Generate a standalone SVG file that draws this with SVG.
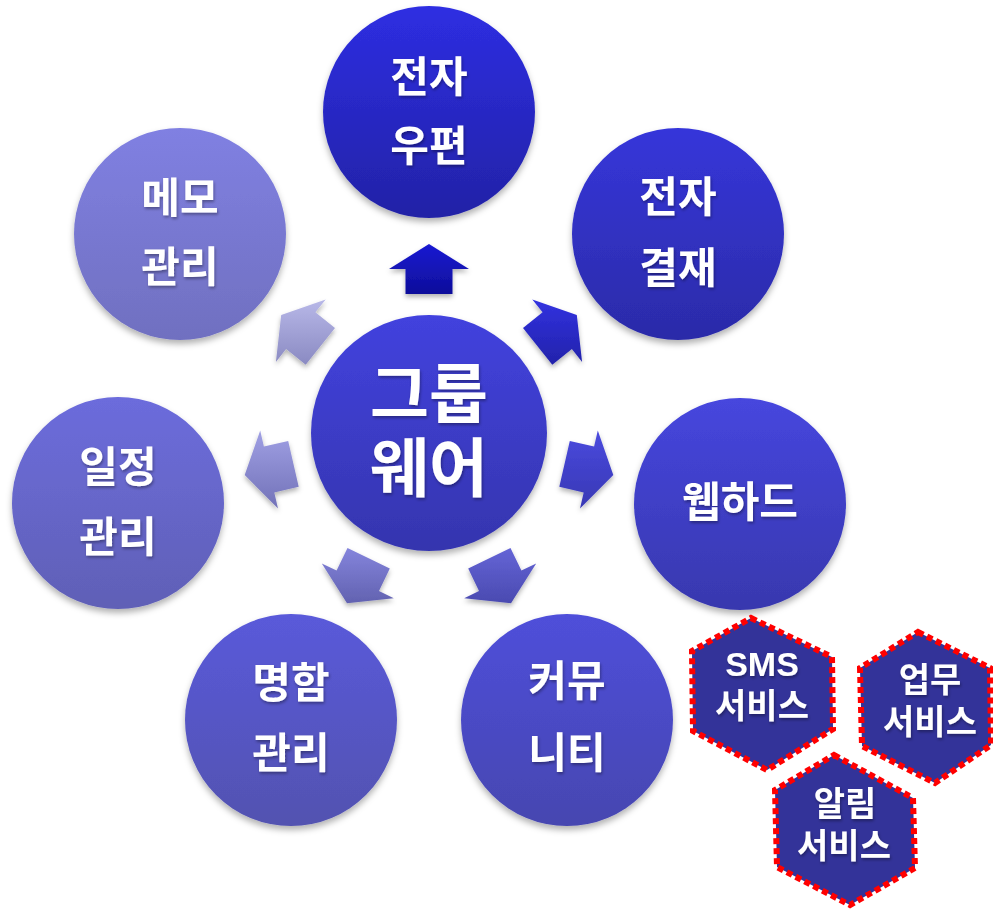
<svg xmlns="http://www.w3.org/2000/svg" width="993" height="910" viewBox="0 0 993 910">
<defs>
<style>
.lbl{font-family:"Liberation Sans","Noto Sans CJK KR",sans-serif;font-weight:bold;fill:#fff;text-anchor:middle;filter:url(#ts)}
.n{font-size:42px}
.c{font-size:64px}
.h{font-size:34px}
.hex{fill:#333399;stroke:#ff0000;stroke-width:6;stroke-dasharray:6 4}
.circ{filter:url(#ds)}
.arr{filter:url(#as)}
</style>
<filter id="ds" x="-20%" y="-20%" width="140%" height="145%"><feDropShadow dx="0" dy="4" stdDeviation="3" flood-color="#000" flood-opacity="0.3"/></filter>
<filter id="as" x="-30%" y="-30%" width="160%" height="160%"><feDropShadow dx="0" dy="3" stdDeviation="2.5" flood-color="#000" flood-opacity="0.3"/></filter>
<filter id="ts" x="-10%" y="-20%" width="120%" height="150%"><feDropShadow dx="1" dy="2" stdDeviation="1.5" flood-color="#000" flood-opacity="0.35"/></filter>
<linearGradient id="g0" x1="0" y1="0" x2="0" y2="1"><stop offset="0" stop-color="#2e2ee2"/><stop offset="1" stop-color="#2222a6"/></linearGradient>
<linearGradient id="g1" x1="0" y1="0" x2="0" y2="1"><stop offset="0" stop-color="#3636da"/><stop offset="1" stop-color="#2b2ba8"/></linearGradient>
<linearGradient id="g2" x1="0" y1="0" x2="0" y2="1"><stop offset="0" stop-color="#4646de"/><stop offset="1" stop-color="#3838ae"/></linearGradient>
<linearGradient id="g3" x1="0" y1="0" x2="0" y2="1"><stop offset="0" stop-color="#4f4fda"/><stop offset="1" stop-color="#4646b0"/></linearGradient>
<linearGradient id="g4" x1="0" y1="0" x2="0" y2="1"><stop offset="0" stop-color="#5a5ada"/><stop offset="1" stop-color="#5252b0"/></linearGradient>
<linearGradient id="g5" x1="0" y1="0" x2="0" y2="1"><stop offset="0" stop-color="#6c6cdc"/><stop offset="1" stop-color="#6060b6"/></linearGradient>
<linearGradient id="g6" x1="0" y1="0" x2="0" y2="1"><stop offset="0" stop-color="#8080e2"/><stop offset="1" stop-color="#7070c0"/></linearGradient>
<linearGradient id="gc" x1="0" y1="0" x2="0" y2="1"><stop offset="0" stop-color="#4242de"/><stop offset="1" stop-color="#3535ae"/></linearGradient>
<linearGradient id="a0" x1="0" y1="0" x2="0" y2="1"><stop offset="0" stop-color="#1a1ad2"/><stop offset="1" stop-color="#0e0e9a"/></linearGradient>
<linearGradient id="a1" x1="0" y1="0" x2="0" y2="1"><stop offset="0" stop-color="#3232e0"/><stop offset="1" stop-color="#2222aa"/></linearGradient>
<linearGradient id="a2" x1="0" y1="0" x2="0" y2="1"><stop offset="0" stop-color="#4a4ade"/><stop offset="1" stop-color="#3838b4"/></linearGradient>
<linearGradient id="a3" x1="0" y1="0" x2="0" y2="1"><stop offset="0" stop-color="#6464d6"/><stop offset="1" stop-color="#4a4ab0"/></linearGradient>
<linearGradient id="a4" x1="0" y1="0" x2="0" y2="1"><stop offset="0" stop-color="#8484dc"/><stop offset="1" stop-color="#6262b0"/></linearGradient>
<linearGradient id="a5" x1="0" y1="0" x2="0" y2="1"><stop offset="0" stop-color="#a0a0e4"/><stop offset="1" stop-color="#7272b8"/></linearGradient>
<linearGradient id="a6" x1="0" y1="0" x2="0" y2="1"><stop offset="0" stop-color="#b8b8e8"/><stop offset="1" stop-color="#8a8ac2"/></linearGradient>
</defs>
<rect width="993" height="910" fill="#fff"/>

<g id="connectors">
<polygon class="arr" fill="url(#a0)" points="429,244 469,269 452.5,269 452.5,294 405.5,294 405.5,269 389,269"/>
<polygon class="arr" fill="url(#a1)" points="576.8,315.1 582.1,362 571.9,349.1 552.3,364.7 523,327.9 542.6,312.3 532.3,299.4"/>
<polygon class="arr" fill="url(#a2)" points="613.3,475.1 580,508.5 583.7,492.4 559.3,486.8 569.8,441 594.1,446.6 597.8,430.5"/>
<polygon class="arr" fill="url(#a3)" points="511,603.3 464.2,598.2 479,591 468.2,568.5 510.5,548.1 521.4,570.6 536.2,563.4"/>
<polygon class="arr" fill="url(#a4)" points="347,603.3 321.8,563.4 336.6,570.6 347.5,548.1 389.8,568.5 379,591 393.8,598.2"/>
<polygon class="arr" fill="url(#a5)" points="244.7,475.1 278,508.5 274.3,492.4 298.7,486.8 288.2,441 263.9,446.6 260.2,430.5"/>
<polygon class="arr" fill="url(#a6)" points="281.2,315.1 275.9,362 286.1,349.1 305.7,364.7 335,327.9 315.4,312.3 325.7,299.4"/>
</g>

<g id="center">
<circle class="circ" cx="429" cy="433" r="118" fill="url(#gc)"/>
<text class="lbl c" x="429" y="417">그룹</text>
<text class="lbl c" x="429" y="491">웨어</text>
</g>

<g id="email">
<circle class="circ" cx="429" cy="112" r="106" fill="url(#g0)"/>
<text class="lbl n" x="429" y="92">전자</text>
<text class="lbl n" x="429" y="161">우편</text>
</g>

<g id="approval">
<circle class="circ" cx="678" cy="234" r="106" fill="url(#g1)"/>
<text class="lbl n" x="678" y="212">전자</text>
<text class="lbl n" x="678" y="283">결재</text>
</g>

<g id="webhard">
<circle class="circ" cx="740" cy="504" r="106" fill="url(#g2)"/>
<text class="lbl n" x="740" y="517">웹하드</text>
</g>

<g id="community">
<circle class="circ" cx="567" cy="720" r="106" fill="url(#g3)"/>
<text class="lbl n" x="567" y="696">커뮤</text>
<text class="lbl n" x="567" y="768">니티</text>
</g>

<g id="namecard">
<circle class="circ" cx="291" cy="720" r="106" fill="url(#g4)"/>
<text class="lbl n" x="291" y="698">명함</text>
<text class="lbl n" x="291" y="768">관리</text>
</g>

<g id="schedule">
<circle class="circ" cx="118" cy="503" r="106" fill="url(#g5)"/>
<text class="lbl n" x="118" y="482">일정</text>
<text class="lbl n" x="118" y="552">관리</text>
</g>

<g id="memo">
<circle class="circ" cx="180" cy="234" r="106" fill="url(#g6)"/>
<text class="lbl n" x="180" y="213">메모</text>
<text class="lbl n" x="180" y="282">관리</text>
</g>

<g id="sms">
<polygon class="hex" points="751,618 832,657 833,729 767,770 693,731 692,651"/>
<text class="lbl h" x="762" y="676">SMS</text>
<text class="lbl h" x="762" y="718">서비스</text>
</g>

<g id="work">
<polygon class="hex" points="918,632 990,668 991,745 935,783 862,746 860,668"/>
<text class="lbl h" x="930" y="692">업무</text>
<text class="lbl h" x="930" y="734">서비스</text>
</g>

<g id="notify">
<polygon class="hex" points="834,755 913,798 915,868 850,905 777,867 775,790"/>
<text class="lbl h" x="845" y="816">알림</text>
<text class="lbl h" x="844" y="858">서비스</text>
</g>
</svg>
